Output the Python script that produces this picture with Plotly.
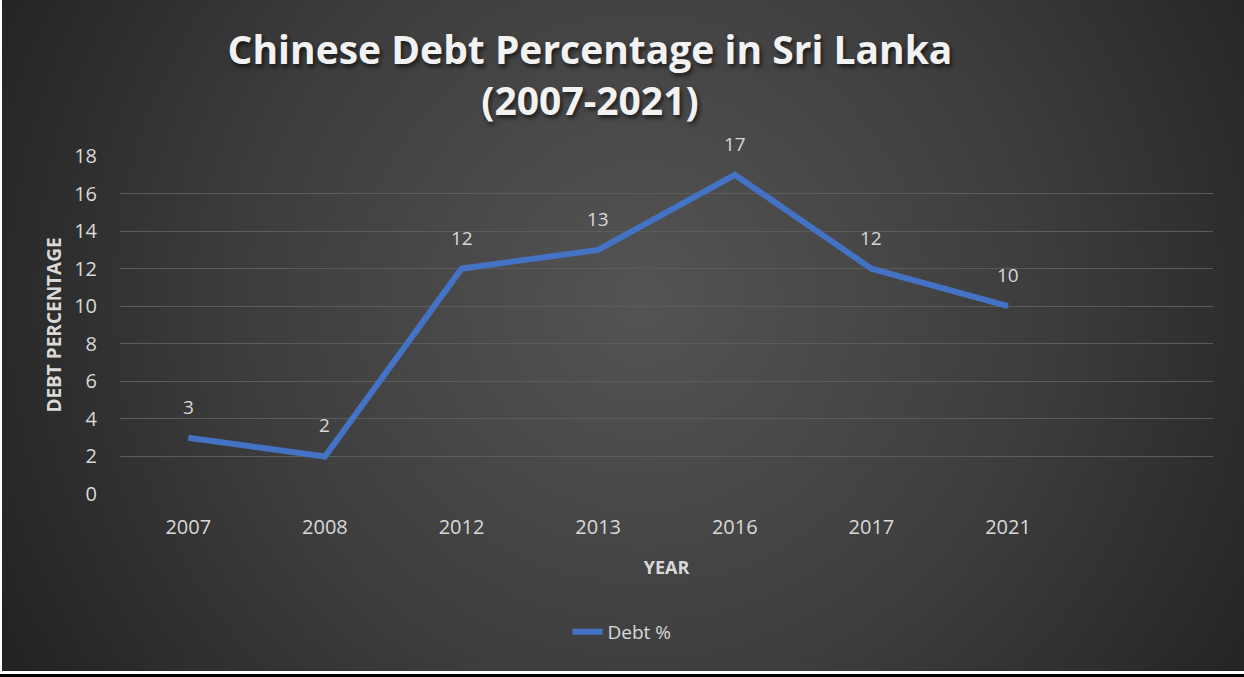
import base64
import plotly.graph_objects as go

years = ["2007", "2008", "2012", "2013", "2016", "2017", "2021"]
debt_pct = [3, 2, 12, 13, 17, 12, 10]
y_ticks = [0, 2, 4, 6, 8, 10, 12, 14, 16, 18]

W, H = 1244, 677
L, R, T, B = 120, 31, 156, 183
pw, ph = W - L - R, H - T - B

def px_x(p):
    return (p - L) / pw

def px_y(p):
    return (H - B - p) / ph

svg = f'''<svg xmlns="http://www.w3.org/2000/svg" width="1242" height="671" viewBox="0 0 1242 671" preserveAspectRatio="none">
<defs><radialGradient id="g" gradientUnits="userSpaceOnUse" cx="640" cy="300" r="720">
<stop offset="0" stop-color="#545454"/><stop offset="0.55" stop-color="#3d3d3d"/><stop offset="1" stop-color="#232323"/>
</radialGradient></defs>
<rect x="0" y="0" width="1242" height="671" fill="url(#g)"/></svg>'''
src = "data:image/svg+xml;base64," + base64.b64encode(svg.encode()).decode()

font_main = "Open Sans, Lato, sans-serif"
txt = "#d9d9d9"

fig = go.Figure()
fig.add_trace(go.Scatter(
    x=years, y=debt_pct, mode="lines", name="Debt %",
    line=dict(color="#4472C4", width=6),
))

for i, v in enumerate(debt_pct):
    fig.add_annotation(x=i, y=v, xref="x", yref="y", text=str(v), showarrow=False,
                       yshift=31, font=dict(family=font_main, size=19, color=txt))

fig.update_layout(
    width=W, height=H,
    margin=dict(l=L, r=R, t=T, b=B),
    paper_bgcolor="white",
    plot_bgcolor="rgba(0,0,0,0)",
    title=dict(
        text="Chinese Debt Percentage in Sri Lanka<br>(2007-2021)",
        x=px_x(590), xref="paper", xanchor="center",
        y=1 - 64 / H, yanchor="middle",
        font=dict(family=font_main, size=39, color="#f2f2f2",
                  weight="bold", shadow="2px 3px 4px rgba(0,0,0,0.6)"),
    ),
    showlegend=True,
    legend=dict(orientation="h", x=px_x(622), xanchor="center",
                y=px_y(632), yanchor="middle",
                font=dict(family=font_main, size=19, color=txt),
                bgcolor="rgba(0,0,0,0)"),
    images=[dict(source=src, xref="paper", yref="paper",
                 x=px_x(2), y=px_y(0), sizex=(W - 2) / pw, sizey=671 / ph,
                 xanchor="left", yanchor="top", sizing="stretch", layer="below")],
    shapes=[dict(type="rect", xref="paper", yref="paper",
                 x0=px_x(0), x1=px_x(W), y0=px_y(674), y1=px_y(677),
                 fillcolor="black", line=dict(width=0), layer="above")],
)

fig.update_xaxes(
    type="category", categoryorder="array", categoryarray=years,
    range=[-0.5, 7.5], showgrid=False, zeroline=False, showline=False,
    ticks="", ticklabelstandoff=19,
    tickfont=dict(family=font_main, size=20, color=txt),
    title=dict(text="YEAR", standoff=22,
               font=dict(family=font_main, size=18, color=txt, weight="bold")),
)
fig.update_yaxes(
    range=[0, 18], tickvals=y_ticks, ticktext=[str(t) for t in y_ticks],
    showgrid=True, gridcolor="#5c5c5c", gridwidth=1.3, zeroline=False,
    showline=False, ticks="", ticklabelstandoff=22,
    tickfont=dict(family=font_main, size=20, color=txt),
    title=dict(text="DEBT PERCENTAGE", standoff=7,
               font=dict(family=font_main, size=19, color=txt, weight="bold")),
)

fig.write_html("out.html")
